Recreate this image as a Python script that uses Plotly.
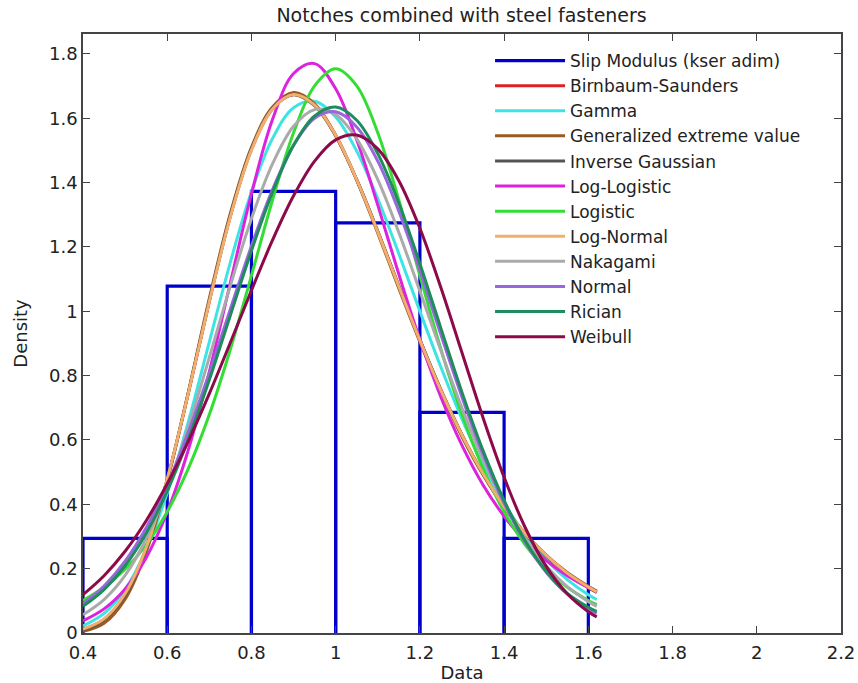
import plotly.graph_objects as go

# ---------------- data ----------------
bin_edges = [0.4, 0.6, 0.8, 1.0, 1.2, 1.4, 1.6]
hist_density = [0.294, 1.078, 1.373, 1.275, 0.686, 0.294]

xs = [0.40, 0.45, 0.50, 0.55, 0.60, 0.65, 0.70, 0.75, 0.80, 0.85, 0.90, 0.95, 1.00,
      1.05, 1.10, 1.15, 1.20, 1.25, 1.30, 1.35, 1.40, 1.45, 1.50, 1.55, 1.60, 1.62]

birnbaum = [0.011, 0.042, 0.119, 0.262, 0.477, 0.745, 1.031, 1.296, 1.503, 1.630, 1.674, 1.640, 1.546,
            1.409, 1.248, 1.078, 0.911, 0.755, 0.616, 0.495, 0.393, 0.309, 0.240, 0.185, 0.142, 0.127]
gamma = [0.022, 0.061, 0.135, 0.259, 0.435, 0.656, 0.905, 1.153, 1.372, 1.537, 1.633, 1.653, 1.604,
         1.498, 1.350, 1.179, 1.000, 0.826, 0.665, 0.524, 0.404, 0.305, 0.227, 0.166, 0.119, 0.104]
gev = [0.005, 0.030, 0.105, 0.252, 0.472, 0.748, 1.040, 1.305, 1.510, 1.635, 1.680, 1.645, 1.548,
       1.407, 1.243, 1.071, 0.905, 0.749, 0.610, 0.491, 0.391, 0.309, 0.242, 0.188, 0.145, 0.130]
invgauss = [0.010, 0.041, 0.118, 0.262, 0.477, 0.746, 1.033, 1.298, 1.504, 1.630, 1.673, 1.639, 1.545,
            1.409, 1.249, 1.079, 0.912, 0.756, 0.616, 0.495, 0.392, 0.308, 0.239, 0.184, 0.141, 0.126]
loglogistic = [0.038, 0.075, 0.137, 0.234, 0.376, 0.569, 0.812, 1.089, 1.365, 1.596, 1.739, 1.770, 1.692,
               1.533, 1.330, 1.115, 0.912, 0.733, 0.583, 0.460, 0.363, 0.286, 0.225, 0.178, 0.141, 0.129]
logistic = [0.101, 0.142, 0.198, 0.274, 0.377, 0.511, 0.679, 0.882, 1.111, 1.346, 1.555, 1.701, 1.754,
            1.701, 1.555, 1.346, 1.111, 0.882, 0.679, 0.511, 0.377, 0.274, 0.198, 0.142, 0.101, 0.088]
lognormal = [0.012, 0.044, 0.122, 0.265, 0.479, 0.745, 1.030, 1.294, 1.501, 1.629, 1.674, 1.641, 1.547,
             1.409, 1.247, 1.077, 0.910, 0.754, 0.615, 0.495, 0.393, 0.309, 0.241, 0.186, 0.143, 0.128]
nakagami = [0.057, 0.104, 0.179, 0.293, 0.448, 0.640, 0.857, 1.080, 1.288, 1.458, 1.575, 1.627, 1.612,
            1.536, 1.409, 1.245, 1.063, 0.877, 0.699, 0.540, 0.404, 0.294, 0.208, 0.144, 0.097, 0.083]
normal = [0.091, 0.146, 0.223, 0.327, 0.461, 0.624, 0.809, 1.007, 1.203, 1.378, 1.516, 1.600, 1.620,
          1.573, 1.467, 1.311, 1.126, 0.927, 0.733, 0.556, 0.404, 0.282, 0.189, 0.121, 0.075, 0.061]
rician = [0.083, 0.135, 0.209, 0.310, 0.441, 0.602, 0.787, 0.988, 1.188, 1.370, 1.516, 1.607, 1.635,
          1.594, 1.490, 1.336, 1.148, 0.947, 0.748, 0.567, 0.412, 0.287, 0.192, 0.123, 0.080, 0.067]
weibull = [0.119, 0.178, 0.254, 0.349, 0.464, 0.596, 0.744, 0.903, 1.065, 1.221, 1.359, 1.467, 1.533,
           1.548, 1.505, 1.406, 1.258, 1.073, 0.871, 0.669, 0.484, 0.328, 0.207, 0.122, 0.066, 0.050]

series = [
    ("Birnbaum-Saunders", birnbaum, "#DD2222"),
    ("Gamma", gamma, "#3EE4E4"),
    ("Generalized extreme value", gev, "#9A5A22"),
    ("Inverse Gaussian", invgauss, "#555555"),
    ("Log-Logistic", loglogistic, "#DD22DD"),
    ("Logistic", logistic, "#33DD33"),
    ("Log-Normal", lognormal, "#F2AE6C"),
    ("Nakagami", nakagami, "#AAAAAA"),
    ("Normal", normal, "#9966DD"),
    ("Rician", rician, "#1E8C5C"),
    ("Weibull", weibull, "#8C0A4A"),
]

FONT = "DejaVu Sans, Liberation Sans, Arial, sans-serif"

# ---------------- histogram outline ----------------
hx, hy = [], []
for i, h in enumerate(hist_density):
    left, right = bin_edges[i], bin_edges[i + 1]
    hx += [left, left, right, right, None]
    hy += [0, h, h, 0, None]

fig = go.Figure()
fig.add_trace(go.Scatter(x=hx, y=hy, mode="lines", name="Slip Modulus (kser adim)",
                         line=dict(color="#0000CC", width=3.2)))

for name, vals, col in series:
    fig.add_trace(go.Scatter(x=xs, y=vals, mode="lines", name=name,
                             line=dict(color=col, width=3, shape="spline", smoothing=1.0)))

axis_common = dict(showline=True, linecolor="#444444", linewidth=1.5, mirror="ticks",
                   ticks="inside", ticklen=7, tickcolor="#444444", tickwidth=1.2,
                   showgrid=False, zeroline=False, automargin=False,
                   tickfont=dict(family=FONT, size=18, color="#222222"))

fig.update_layout(
    width=858, height=683,
    margin=dict(l=83, r=17, t=34, b=50),
    paper_bgcolor="white", plot_bgcolor="white",
    font=dict(family=FONT, size=18, color="#222222"),
    title=dict(text="Notches combined with steel fasteners", x=0.538, xanchor="center",
               y=1 - 15.5 / 683, yanchor="middle", yref="container",
               font=dict(family=FONT, size=19, color="#222222")),
    xaxis=dict(range=[0.4, 2.2], tickvals=[0.4, 0.6, 0.8, 1.0, 1.2, 1.4, 1.6, 1.8, 2.0, 2.2],
               ticklabelstandoff=3,
               title=dict(text="Data", standoff=4, font=dict(family=FONT, size=18)),
               **axis_common),
    yaxis=dict(range=[0, 1.862], tickvals=[0, 0.2, 0.4, 0.6, 0.8, 1.0, 1.2, 1.4, 1.6, 1.8],
               title=dict(text="Density", standoff=17, font=dict(family=FONT, size=18)),
               **axis_common),
    legend=dict(x=0.537, y=0.985, xanchor="left", yanchor="top", bgcolor="rgba(0,0,0,0)",
                borderwidth=0, itemwidth=70, font=dict(family=FONT, size=17, color="#222222"),
                tracegroupgap=0),
    showlegend=True,
)

fig.write_html("out.html")
